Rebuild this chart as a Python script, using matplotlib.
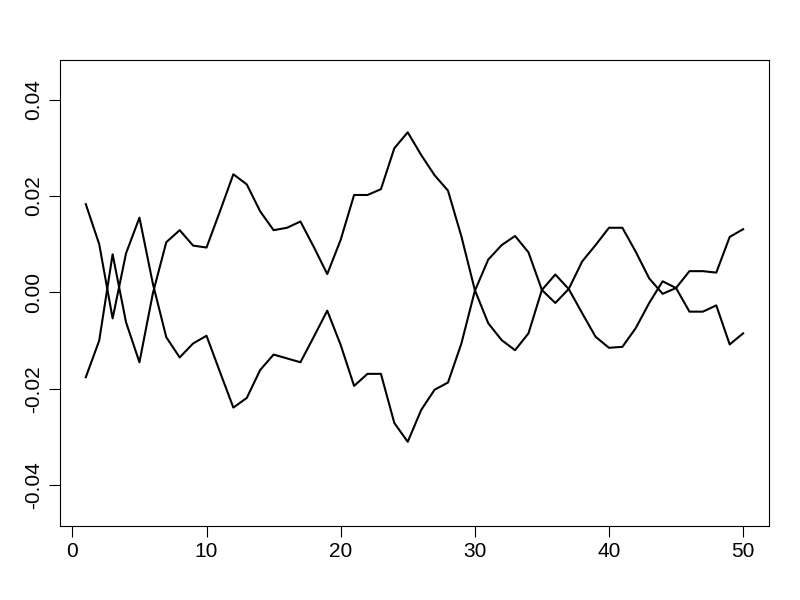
import numpy as np
import matplotlib
matplotlib.use("Agg")
import matplotlib.pyplot as plt
import matplotlib.ticker as mpticker

x = np.arange(1, 51)

series_a = [0.0183, 0.0100, -0.0054, 0.0081, 0.0155, 0.0018, -0.0093, -0.0135, -0.0106, -0.0090,
            -0.0165, -0.0239, -0.0219, -0.0161, -0.0129, -0.0137, -0.0145, -0.0092, -0.0038, -0.0109,
            -0.0194, -0.0169, -0.0169, -0.0271, -0.0310, -0.0244, -0.0202, -0.0187, -0.0106, 0.0003,
            0.0068, 0.0098, 0.0117, 0.0083, 0.0005, -0.0022, 0.0007, 0.0064, 0.0098, 0.0134,
            0.0134, 0.0084, 0.0029, -0.0003, 0.0009, 0.0044, 0.0044, 0.0041, 0.0115, 0.0131]

series_b = [-0.0176, -0.0100, 0.0079, -0.0062, -0.0145, -0.0002, 0.0104, 0.0129, 0.0097, 0.0093,
            0.0168, 0.0245, 0.0224, 0.0168, 0.0129, 0.0134, 0.0147, 0.0094, 0.0038, 0.0109,
            0.0202, 0.0202, 0.0214, 0.0299, 0.0332, 0.0285, 0.0243, 0.0211, 0.0116, 0.0005,
            -0.0064, -0.0099, -0.0120, -0.0085, 0.0005, 0.0037, 0.0007, -0.0043, -0.0092, -0.0115,
            -0.0113, -0.0074, -0.0022, 0.0023, 0.0009, -0.0040, -0.0040, -0.0027, -0.0108, -0.0085]

xticks = [0, 10, 20, 30, 40, 50]
yticks = [-0.04, -0.02, 0.00, 0.02, 0.04]

plt.rcParams['font.family'] = ['Liberation Sans', 'DejaVu Sans']

fig = plt.figure(figsize=(8, 6), dpi=100)
ax = fig.add_axes([59.5 / 800, 1 - 525.7 / 600, (769.4 - 59.5) / 800, (525.7 - 60) / 600])

ax.plot(x, series_a, color='black', lw=1.5)
ax.plot(x, series_b, color='black', lw=1.5)

ax.set_xlim(-0.96, 51.96)
ax.set_ylim(-0.0484, 0.0482)
ax.set_xticks(xticks)
ax.set_yticks(yticks)
ax.yaxis.set_major_formatter(mpticker.FuncFormatter(lambda v, pos: "%.2f" % v if abs(v) > 1e-9 else "0.00"))
ax.tick_params(axis='both', labelsize=15, length=8, width=0.8, direction='out', pad=4)
ax.tick_params(axis='y', labelrotation=90)
for lab in ax.get_yticklabels():
    lab.set_va('center')
for s in ax.spines.values():
    s.set_linewidth(0.8)

fig.savefig("out.png", dpi=100)
